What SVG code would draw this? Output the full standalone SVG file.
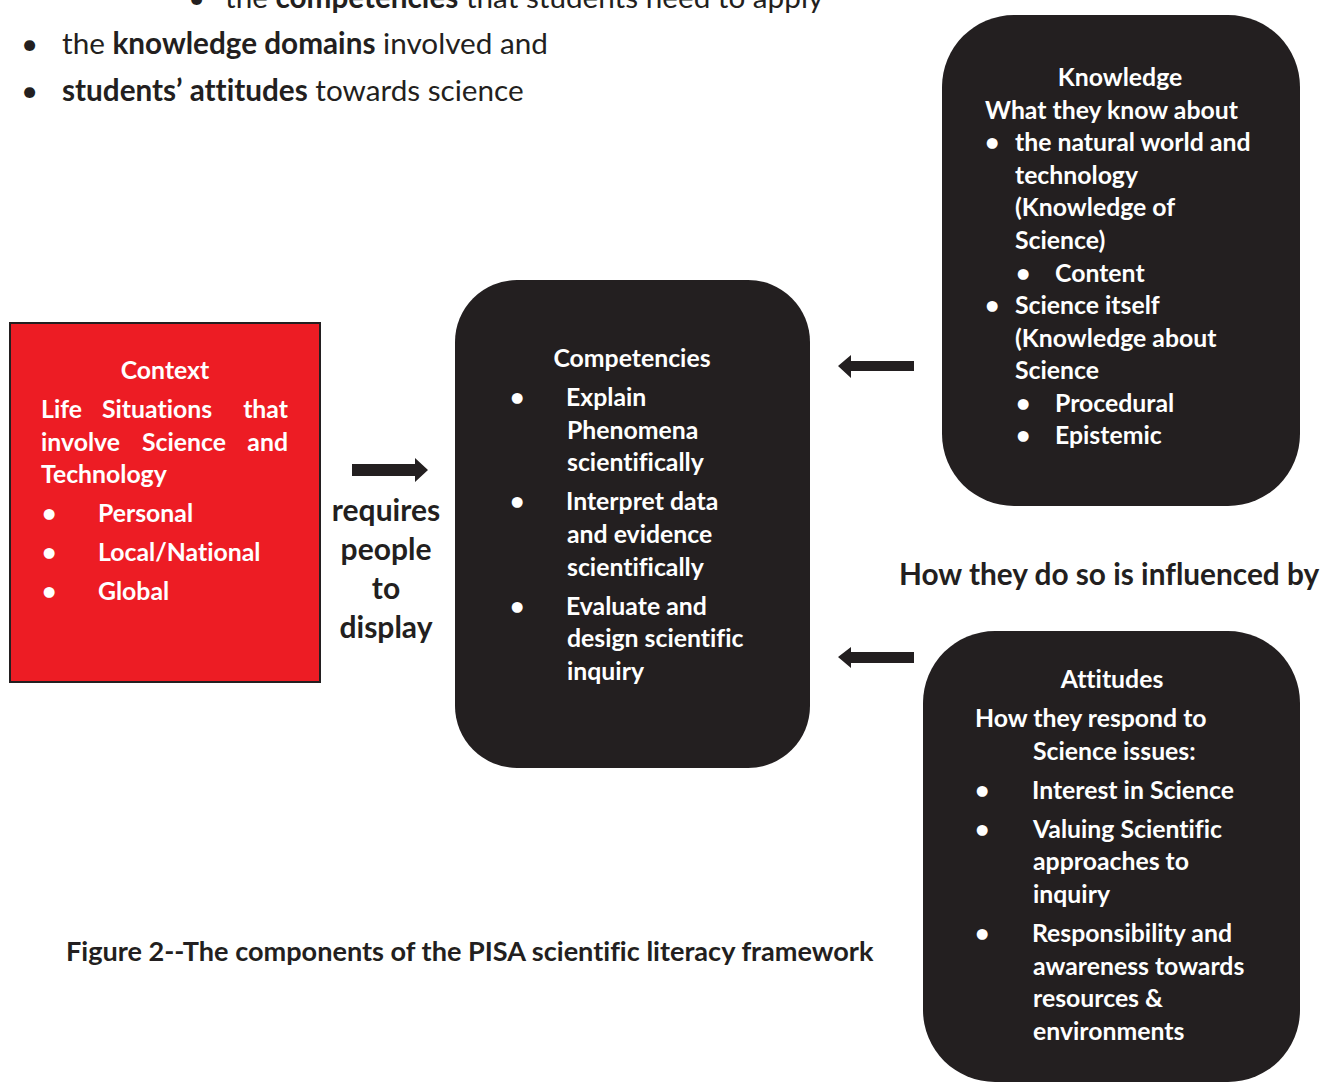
<svg xmlns="http://www.w3.org/2000/svg" width="1323" height="1082" viewBox="0 0 1323 1082">
<style>
text{font-family:Lato,"Open Sans","Liberation Sans",sans-serif;font-variant-ligatures:none;}
.w{fill:#ffffff;font-weight:700;font-size:24.8px;}
.b{fill:#231f20;font-weight:700;}
.top{fill:#231f20;font-size:29.7px;font-weight:400;}
.top tspan.s{font-weight:700;}
.box{fill:#231f20;}
.arr{fill:#231f20;}
</style>
<rect width="1323" height="1082" fill="#ffffff"/>
<g id="intro">
<text class="top" x="188" y="8">•</text>
<text class="top" x="225" y="8">the <tspan class="s">competencies</tspan> that students need to apply</text>
<text class="top" x="21" y="54">•</text>
<text class="top" x="62" y="54">the <tspan class="s">knowledge domains</tspan> involved and</text>
<text class="top" x="21" y="101">•</text>
<text class="top" x="62" y="101"><tspan class="s">students’ attitudes</tspan> towards science</text>
</g>
<g id="context">
<rect x="10" y="323" width="310" height="359" fill="#ed1c24" stroke="#231f20" stroke-width="2"/>
<text class="w" x="165" y="379" text-anchor="middle">Context</text>
<text class="w" x="41" y="418">Life</text>
<text class="w" x="102" y="418">Situations</text>
<text class="w" x="288" y="418" text-anchor="end">that</text>
<text class="w" x="41" y="451">involve</text>
<text class="w" x="142" y="451">Science</text>
<text class="w" x="288" y="451" text-anchor="end">and</text>
<text class="w" x="41" y="483">Technology</text>
<text class="w" x="42" y="522">•</text><text class="w" x="98" y="522">Personal</text>
<text class="w" x="42" y="561">•</text><text class="w" x="98" y="561">Local/National</text>
<text class="w" x="42" y="600">•</text><text class="w" x="98" y="600">Global</text>
</g>
<g id="requires-label">
<text class="b" font-size="30" text-anchor="middle" x="386" y="521">requires</text>
<text class="b" font-size="30" text-anchor="middle" x="386" y="560">people</text>
<text class="b" font-size="30" text-anchor="middle" x="386" y="599">to</text>
<text class="b" font-size="30" text-anchor="middle" x="386" y="638">display</text>
</g>
<g id="competencies">
<rect class="box" x="455" y="280" width="355" height="488" rx="62" ry="62"/>
<text class="w" x="632" y="367" text-anchor="middle">Competencies</text>
<text class="w" x="510" y="406">•</text><text class="w" x="566" y="406">Explain</text>
<text class="w" x="567" y="439">Phenomena</text>
<text class="w" x="567" y="471">scientifically</text>
<text class="w" x="510" y="510">•</text><text class="w" x="566" y="510">Interpret data</text>
<text class="w" x="567" y="543">and evidence</text>
<text class="w" x="567" y="576">scientifically</text>
<text class="w" x="510" y="615">•</text><text class="w" x="566" y="615">Evaluate and</text>
<text class="w" x="567" y="647">design scientific</text>
<text class="w" x="567" y="680">inquiry</text>
</g>
<g id="knowledge">
<rect class="box" x="942" y="15" width="358" height="491" rx="72" ry="72"/>
<text class="w" x="1120" y="86" text-anchor="middle">Knowledge</text>
<text class="w" x="985" y="119">What they know about</text>
<text class="w" x="985" y="151">•</text><text class="w" x="1015" y="151">the natural world and</text>
<text class="w" x="1015" y="184">technology</text>
<text class="w" x="1015" y="216">(Knowledge of</text>
<text class="w" x="1015" y="249">Science)</text>
<text class="w" x="1016" y="282">•</text><text class="w" x="1055" y="282">Content</text>
<text class="w" x="985" y="314">•</text><text class="w" x="1015" y="314">Science itself</text>
<text class="w" x="1015" y="347">(Knowledge about</text>
<text class="w" x="1015" y="379">Science</text>
<text class="w" x="1016" y="412">•</text><text class="w" x="1055" y="412">Procedural</text>
<text class="w" x="1016" y="444">•</text><text class="w" x="1055" y="444">Epistemic</text>
</g>
<g id="influence-label">
<text class="b" font-size="29.8" x="899" y="585">How they do so is influenced by</text>
</g>
<g id="attitudes">
<rect class="box" x="923" y="631" width="377" height="451" rx="72" ry="72"/>
<text class="w" x="1112" y="688" text-anchor="middle">Attitudes</text>
<text class="w" x="975" y="727">How they respond to</text>
<text class="w" x="1033" y="760">Science issues:</text>
<text class="w" x="975" y="799">•</text><text class="w" x="1032" y="799">Interest in Science</text>
<text class="w" x="975" y="838">•</text><text class="w" x="1033" y="838">Valuing Scientific</text>
<text class="w" x="1033" y="870">approaches to</text>
<text class="w" x="1033" y="903">inquiry</text>
<text class="w" x="975" y="942">•</text><text class="w" x="1032" y="942">Responsibility and</text>
<text class="w" x="1033" y="975">awareness towards</text>
<text class="w" x="1033" y="1007">resources &amp;</text>
<text class="w" x="1033" y="1040">environments</text>
</g>
<g id="connectors">
<polygon class="arr" points="352,464 415,464 415,458 428,470 415,482 415,476 352,476"/>
<polygon class="arr" points="914,361 851,361 851,355 838,366 851,378 851,371 914,371"/>
<polygon class="arr" points="914,652 851,652 851,647 838,657 851,668 851,663 914,663"/>
</g>
<g id="caption">
<text class="b" font-size="27.1" x="66" y="961">Figure 2--The components of the PISA scientific literacy framework</text>
</g>
</svg>
